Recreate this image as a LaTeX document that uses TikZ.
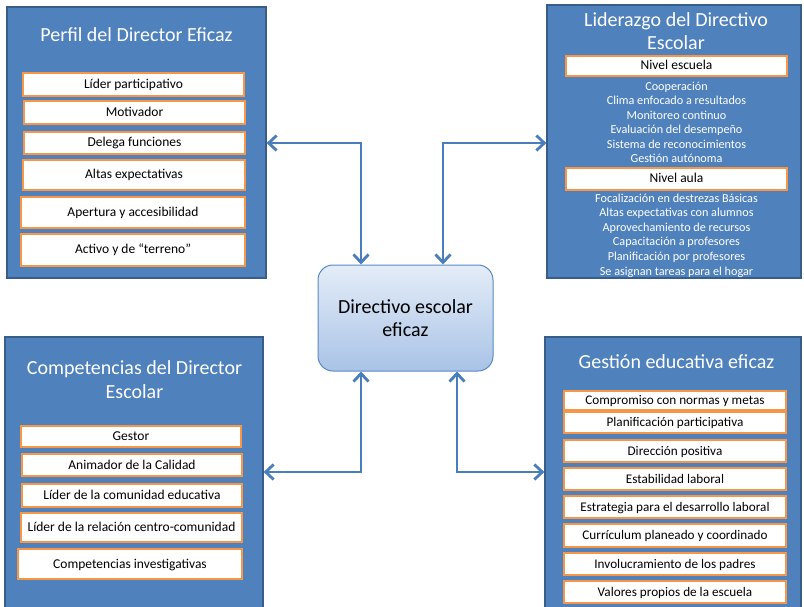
\documentclass[tikz,border=0pt]{standalone}
\usepackage{fontspec}
\setmainfont{Carlito}
\usetikzlibrary{arrows.meta}
\definecolor{panelblue}{HTML}{4F81BD}
\definecolor{paneledge}{HTML}{385D8A}
\definecolor{boxorange}{HTML}{F79646}
\definecolor{arrowblue}{HTML}{4A7EBB}
\definecolor{ctrtop}{HTML}{E4EDF8}
\definecolor{ctrbot}{HTML}{A9C3E6}
\definecolor{ctredge}{HTML}{5A8AC6}
\begin{document}
\begin{tikzpicture}[x=1pt,y=-1pt,
  panel/.style={draw=paneledge, line width=1.2pt, fill=panelblue, inner sep=0pt},
  ptitle/.style={text=white, font=\fontsize{20}{24}\selectfont, align=center, inner sep=0pt},
  item/.style={draw=boxorange, line width=1.8pt, fill=white, inner sep=0pt, text=black, font=\fontsize{13.5}{15}\selectfont, text height=10.5pt, text depth=2.5pt},
  bitem/.style={item, font=\fontsize{13.2}{15}\selectfont},
  litem/.style={text=white, font=\fontsize{12.2}{13}\selectfont, inner sep=0pt, anchor=base},
  conn/.style={draw=arrowblue, line width=2.8pt, arrows={Straight Barb[length=8pt,width=15pt]-Straight Barb[length=8pt,width=15pt]}},
  center/.style={draw=ctredge, line width=1pt, rounded corners=15pt, top color=ctrtop, bottom color=ctrbot, align=center, inner sep=0pt, font=\fontsize{20}{23}\selectfont}
]
\useasboundingbox (0,0) rectangle (804,607);
\fill[white] (0,0) rectangle (804,607);

% ---------- top left panel
\node[panel, minimum width=259pt, minimum height=271pt] (tlp) at (136.5,142.5) {};
\node[ptitle] (tlt) at (136.5,35) {Perfil del Director Eficaz};
\node[item, minimum width=221pt, minimum height=23pt] (tl1) at (133.5,84.5) {Líder participativo};
\node[item, minimum width=221pt, minimum height=23pt] (tl2) at (134.5,112.5) {Motivador};
\node[item, minimum width=221pt, minimum height=22pt] (tl3) at (134.5,143) {Delega funciones};
\node[item, minimum width=222pt, minimum height=30pt] (tl4) at (134,175) {Altas expectativas};
\node[item, minimum width=224pt, minimum height=31pt] (tl5) at (133,212.5) {Apertura y accesibilidad};
\node[item, minimum width=224pt, minimum height=32pt] (tl6) at (133,250) {Activo y de “terreno”};

% ---------- top right panel
\node[panel, minimum width=254pt, minimum height=273pt] (trp) at (674,141.5) {};
\node[ptitle, font=\fontsize{20}{23}\selectfont] (trt) at (676,31.5) {Liderazgo del Directivo\\Escolar};
\node[item, minimum width=221pt, minimum height=20pt] (tre) at (676.5,66) {Nivel escuela};
\node[litem] (r1) at (676.5,90.5) {Cooperación};
\node[litem] (r2) at (676.5,105) {Clima enfocado a resultados};
\node[litem] (r3) at (676.5,119.5) {Monitoreo continuo};
\node[litem] (r4) at (676.5,134) {Evaluación del desempeño};
\node[litem] (r5) at (676.5,148.5) {Sistema de reconocimientos};
\node[litem] (r6) at (676.5,163) {Gestión autónoma};
\node[item, minimum width=221pt, minimum height=22pt] (tra) at (676.5,179) {Nivel aula};
\node[litem] (s1) at (676.5,202.5) {Focalización en destrezas Básicas};
\node[litem] (s2) at (676.5,217) {Altas expectativas con alumnos};
\node[litem] (s3) at (676.5,231.5) {Aprovechamiento de recursos};
\node[litem] (s4) at (676.5,246) {Capacitación a profesores};
\node[litem] (s5) at (676.5,260.5) {Planificación por profesores};
\node[litem] (s6) at (676.5,275) {Se asignan tareas para el hogar};

% ---------- bottom left panel
\node[panel, minimum width=258pt, minimum height=273pt] (blp) at (134,473.5) {};
\node[ptitle, font=\fontsize{20}{24.5}\selectfont] (blt) at (134.5,379.5) {Competencias del Director\\Escolar};
\node[item, minimum width=220pt, minimum height=21pt] (bl1) at (131,436.5) {Gestor};
\node[item, minimum width=220pt, minimum height=22pt] (bl2) at (132,465) {Animador de la Calidad};
\node[item, minimum width=220pt, minimum height=23pt] (bl3) at (132,495.5) {Líder de la comunidad educativa};
\node[item, minimum width=221pt, minimum height=29pt] (bl4) at (131.5,527.5) {Líder de la relación centro-comunidad};
\node[item, minimum width=224pt, minimum height=30pt] (bl5) at (130,564) {Competencias investigativas};

% ---------- bottom right panel
\node[panel, minimum width=256pt, minimum height=273pt] (brp) at (673,473.5) {};
\node[ptitle] (brt) at (676.5,362) {Gestión educativa eficaz};
\node[bitem, minimum width=222pt, minimum height=19pt] (br1) at (675,400.5) {Compromiso con normas y metas};
\node[bitem, minimum width=222pt, minimum height=21pt] (br2) at (675,422.5) {Planificación participativa};
\node[bitem, minimum width=222pt, minimum height=22pt] (br3) at (675,451) {Dirección positiva};
\node[bitem, minimum width=222pt, minimum height=22pt] (br4) at (675,479) {Estabilidad laboral};
\node[bitem, minimum width=222pt, minimum height=22pt] (br5) at (675,507) {Estrategia para el desarrollo laboral};
\node[bitem, minimum width=222pt, minimum height=23pt] (br6) at (675,535.5) {Currículum planeado y coordinado};
\node[bitem, minimum width=222pt, minimum height=22pt] (br7) at (675,564) {Involucramiento de los padres};
\node[bitem, minimum width=222pt, minimum height=22pt] (br8) at (675,592) {Valores propios de la escuela};

% ---------- centre
\node[center, minimum width=175pt, minimum height=106pt] (ctr) at (405.5,318) {Directivo escolar\\eficaz};

% ---------- connectors
\draw[conn] (tlp.east |- 0,143) -| ([xshift=-44.5pt]ctr.north);
\draw[conn] ([xshift=37.5pt]ctr.north) |- (trp.west |- 0,143);
\draw[conn] ([xshift=-44.5pt]ctr.south) |- (blp.east |- 0,472);
\draw[conn] ([xshift=51.5pt]ctr.south) |- (brp.west |- 0,472);
\end{tikzpicture}
\end{document}
